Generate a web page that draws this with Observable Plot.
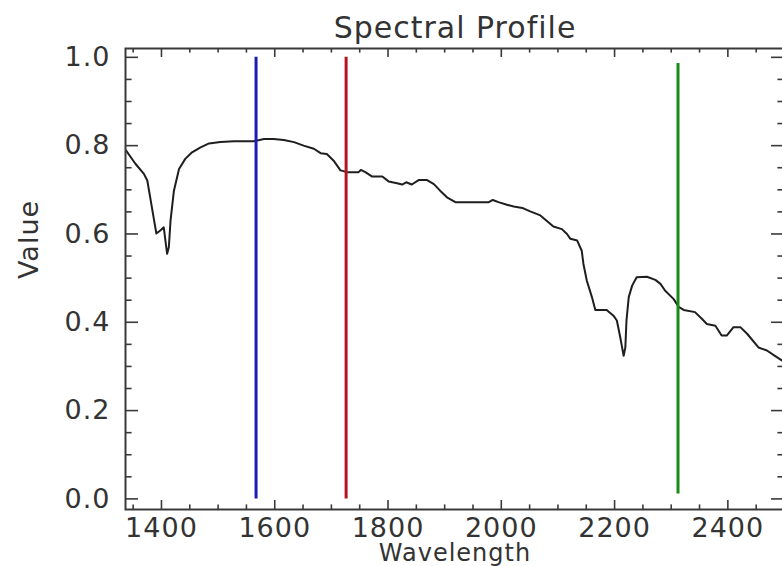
<!DOCTYPE html>
<html>
<head>
<meta charset="utf-8">
<script src="https://cdn.jsdelivr.net/npm/d3@7"></script>
<script src="https://cdn.jsdelivr.net/npm/@observablehq/plot@0.6"></script>
<style>
  html, body { margin: 0; padding: 0; background: #fff; }
</style>
</head>
<body>
<div id="chart"></div>
<script>
// ---- data ----
const wavelength = [1337,1354,1369,1375,1381,1386,1391,1398,1404,1410,1413,1416,1422,1431,1442,1454,1469,1484,1504,1528,1563,1581,1598,1616,1634,1651,1669,1681,1692,1704,1716,1728,1748,1752,1760,1772,1790,1801,1816,1825,1832,1842,1854,1869,1881,1892,1904,1919,1978,1985,1995,2010,2022,2037,2051,2069,2081,2092,2107,2116,2122,2134,2142,2145,2151,2160,2166,2186,2198,2204,2210,2216,2219,2221,2225,2231,2239,2257,2272,2281,2289,2304,2313,2322,2342,2354,2363,2378,2389,2398,2410,2422,2434,2454,2469,2483,2496,2500];
const value = [0.790,0.759,0.736,0.721,0.676,0.638,0.601,0.608,0.615,0.555,0.570,0.630,0.698,0.747,0.770,0.785,0.796,0.805,0.808,0.810,0.810,0.815,0.815,0.813,0.808,0.800,0.793,0.783,0.781,0.766,0.744,0.740,0.740,0.745,0.740,0.730,0.730,0.719,0.715,0.712,0.717,0.712,0.722,0.722,0.713,0.698,0.683,0.672,0.672,0.677,0.672,0.666,0.662,0.659,0.651,0.642,0.629,0.617,0.611,0.600,0.589,0.585,0.562,0.532,0.494,0.457,0.428,0.428,0.415,0.404,0.366,0.324,0.343,0.404,0.457,0.483,0.502,0.503,0.496,0.487,0.472,0.453,0.435,0.428,0.423,0.408,0.396,0.392,0.370,0.370,0.389,0.389,0.374,0.343,0.336,0.324,0.313,0.308];

// band markers (wavelength, bottom value, top value)
const bandWavelength = [1567, 1726, 2312];
const bandLow = [0.0, 0.0, 0.011];
const bandHigh = [1.0, 1.0, 0.986];
const bandColor = ["#1c1cb4", "#b4141e", "#188a18"];

// tick labels
const xTickLabels = [1400, 1600, 1800, 2000, 2200, 2400];
const xMinorTicks = [1350,1450,1500,1550,1650,1700,1750,1850,1900,1950,2050,2100,2150,2250,2300,2350,2450,2500];
const yTickLabels = [0.0, 0.2, 0.4, 0.6, 0.8, 1.0];
const yMinorTicks = [0.05,0.1,0.15,0.25,0.3,0.35,0.45,0.5,0.55,0.65,0.7,0.75,0.85,0.9,0.95];

const titleText = "Spectral Profile";
const xLabel = "Wavelength";
const yLabel = "Value";

// ---- build table ----
const spectrum = wavelength.map((w, i) => ({w, v: value[i]}));
const bands = bandWavelength.map((w, i) => ({w, lo: bandLow[i], hi: bandHigh[i], c: bandColor[i]}));

const W = 782, H = 566;
const mL = 125, mR = -2, mT = 48, mB = 57;
const innerW = W - mL - mR;
const innerH = H - mT - mB;
const axisColor = "#3a3a3a";
const xMajorLen = 9, xMinorLen = 4.6, yMajorLen = 13, yMinorLen = 6.6;

const chart = Plot.plot({
  width: W,
  height: H,
  marginLeft: mL,
  marginRight: mR,
  marginTop: mT,
  marginBottom: mB,
  style: "font-family: 'DejaVu Sans', sans-serif; letter-spacing: 1px; color: #333; background: #fff; overflow: hidden;",
  x: {domain: [1336.5, 2500], axis: null},
  y: {domain: [-0.024, 1.02], axis: null},
  marks: [
    // spectrum curve
    Plot.line(spectrum, {x: "w", y: "v", stroke: "#1e1e1e", strokeWidth: 2, clip: true}),
    // band markers
    Plot.ruleX(bands, {x: "w", y1: "lo", y2: "hi", stroke: "c", strokeWidth: 3}),
    // frame
    Plot.frame({stroke: axisColor, strokeWidth: 2}),
    // bottom ticks
    Plot.tickX(xTickLabels, {x: d => d, insetTop: innerH - xMajorLen, stroke: axisColor, strokeWidth: 1.6}),
    Plot.tickX(xMinorTicks, {x: d => d, insetTop: innerH - xMinorLen, stroke: axisColor, strokeWidth: 1.6}),
    // top ticks
    Plot.tickX(xTickLabels, {x: d => d, insetBottom: innerH - xMajorLen, stroke: axisColor, strokeWidth: 1.6}),
    Plot.tickX(xMinorTicks, {x: d => d, insetBottom: innerH - xMinorLen, stroke: axisColor, strokeWidth: 1.6}),
    // left ticks
    Plot.tickY(yTickLabels, {y: d => d, insetRight: innerW - yMajorLen, stroke: axisColor, strokeWidth: 1.6}),
    Plot.tickY(yMinorTicks, {y: d => d, insetRight: innerW - yMinorLen, stroke: axisColor, strokeWidth: 1.6}),
    // right ticks
    Plot.tickY(yTickLabels, {y: d => d, insetLeft: innerW - yMajorLen, stroke: axisColor, strokeWidth: 1.6}),
    Plot.tickY(yMinorTicks, {y: d => d, insetLeft: innerW - yMinorLen, stroke: axisColor, strokeWidth: 1.6}),
    // tick labels
    Plot.text(xTickLabels, {x: d => d, text: d => String(d), frameAnchor: "bottom", dy: 27, lineAnchor: "bottom", fontSize: 27, fill: "#333"}),
    Plot.text(yTickLabels, {y: d => d, text: d => d.toFixed(1), frameAnchor: "left", dx: -15, textAnchor: "end", lineAnchor: "middle", fontSize: 27, fill: "#333"}),
    // title and axis labels
    Plot.text([titleText], {text: d => d, frameAnchor: "top", dy: -11, lineAnchor: "bottom", fontSize: 30, fill: "#333"}),
    Plot.text([xLabel], {text: d => d, frameAnchor: "bottom", dy: 51, lineAnchor: "bottom", fontSize: 24, fill: "#333"}),
    Plot.text([yLabel], {text: d => d, frameAnchor: "left", dx: -96, rotate: -90, lineAnchor: "middle", fontSize: 27, fill: "#333"})
  ]
});
document.getElementById("chart").appendChild(chart);
</script>
</body>
</html>
